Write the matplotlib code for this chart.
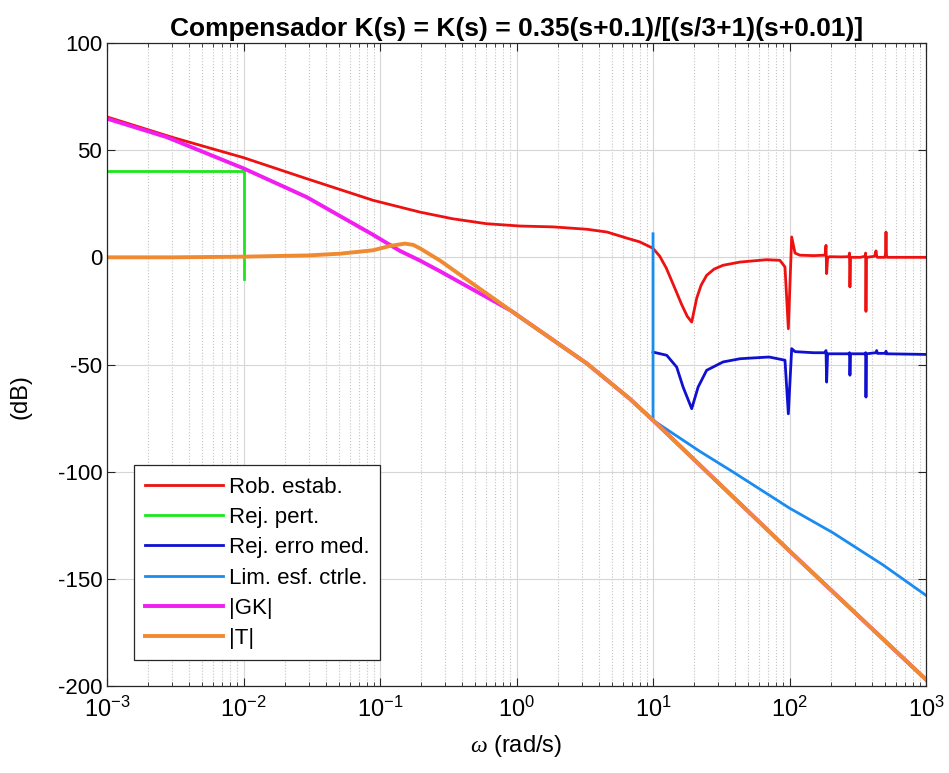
import numpy as np
import matplotlib
matplotlib.use('Agg')
import matplotlib.pyplot as plt

plt.rcParams['font.family'] = ['Liberation Sans', 'DejaVu Sans']
plt.rcParams['mathtext.fontset'] = 'custom'
plt.rcParams['mathtext.rm'] = 'Liberation Sans'
plt.rcParams['mathtext.it'] = 'Liberation Serif:italic'
plt.rcParams['axes.unicode_minus'] = False

# Rob. estab.
w_rob = [1e-3, 3e-3, 1e-2, 0.029, 0.089, 0.196, 0.34, 0.6, 1.06, 1.86, 3.27, 4.6, 6.4, 8.0,
         10, 11.2, 12.5, 13.5, 14.8, 16.2, 17.8, 19.2, 20.9, 22.5, 24.7, 28, 32.6, 43.4, 68,
         85, 92.6, 98, 103.7, 109.7, 119, 150, 182, 185, 187, 190, 195, 240, 272, 275, 277,
         280, 330, 358, 361, 363, 366, 420, 430, 435, 440, 500, 505, 509, 513, 520, 600, 1000]
rob = [65.5, 56.0, 46.5, 36.7, 26.6, 21.1, 18.0, 15.7, 14.6, 14.2, 13.1, 11.8, 9.0, 7.2,
       4.2, 0.5, -5.0, -10.0, -16.0, -22.0, -27.5, -30.2, -19.0, -13.0, -8.4, -5.5, -3.7, -2.2, -1.1,
       -1.4, -4.5, -33.3, 9.5, 2.0, 1.0, 0.8, 1.0, 5.6, -7.6, -0.5, 0.3, 0.2, 0.3, 2.0, -13.8,
       0.0, 0.0, 0.5, 2.0, -25.2, 0.0, 0.5, 3.0, 0.5, 0.0, 0.0, 2.0, 11.8, 1.0, 0.0, 0.0, 0.0]

# Rej. pert.
w_pert = [1e-3, 1e-2, 1e-2]
pert = [40.5, 40.5, -10.0]

# Rej. erro med.
w_med = [10, 12.6, 14.9, 16.6, 19.2, 21.4, 24.7, 32.6, 43.4, 70.8, 92.6, 98, 103.7, 109.7,
         150, 182, 185, 187, 190, 195, 272, 275, 277, 280, 358, 361, 363, 366, 430, 435,
         440, 505, 509, 513, 1000]
med = [-44.2, -45.7, -51.2, -60.5, -70.6, -60.5, -52.7, -48.8, -47.3, -46.5, -48.0, -73.0, -42.6, -44.0,
       -44.5, -44.5, -43.5, -58.2, -45.0, -45.0, -45.0, -44.5, -55.0, -45.0, -45.0, -44.5, -65.2, -45.0,
       -44.5, -43.5, -44.8, -44.8, -43.8, -45.0, -45.3]

# Lim. esf. ctrle.
w_esf = [10, 10, 22, 38.7, 100, 208, 484, 1000]
esf = [11.0, -76.0, -90.5, -100.2, -117.0, -128.5, -143.5, -157.7]

# |GK|
w_gk = [1e-3, 2.73e-3, 1e-2, 0.029, 0.089, 0.14, 0.196, 0.275, 0.42, 0.9, 3.27, 6.76, 10, 100, 1000]
gk = [64.7, 56.1, 41.5, 28.1, 10.5, 3.0, -1.5, -6.5, -13.0, -24.7, -49.5, -66.0, -76.0, -137.0, -197.0]

# |T|
w_t = [1e-3, 3e-3, 1e-2, 0.03, 0.051, 0.089, 0.118, 0.152, 0.175, 0.196, 0.275, 0.42, 0.9,
       3.27, 6.76, 10, 100, 1000]
t = [0.0, 0.0, 0.3, 0.9, 1.7, 3.3, 5.3, 6.4, 5.8, 4.2, -1.5, -9.8, -24.7, -49.5, -66.0, -76.0,
     -137.0, -197.0]

fig = plt.figure(figsize=(9.49, 7.73), dpi=100)
ax = fig.add_axes([0.1128, 0.1125, 0.8630, 0.8319])

ax.semilogx(w_rob, rob, color='#ee1111', lw=2, label='Rob. estab.')
ax.semilogx(w_pert, pert, color='#1ee61e', lw=2, label='Rej. pert.')
ax.semilogx(w_med, med, color='#1010d0', lw=2, label='Rej. erro med.')
ax.semilogx(w_esf, esf, color='#1a8cf0', lw=2, label='Lim. esf. ctrle.')
ax.semilogx(w_gk, gk, color='#f01ef0', lw=2.8, label='|GK|')
ax.semilogx(w_t, t, color='#f08a30', lw=2.8, label='|T|')

ax.set_xlim(1e-3, 1e3)
ax.set_ylim(-200, 100)
ax.set_yticks([-200, -150, -100, -50, 0, 50, 100])
ax.grid(True, which='major', color='#d6d6d6', lw=0.8, ls='-')
ax.grid(True, which='minor', axis='x', color='#c4c4c4', lw=0.8, ls=':')
ax.set_axisbelow(True)
ax.tick_params(which='both', direction='in', top=True, right=True, labelsize=16,
               color='#262626')
ax.tick_params(axis='x', which='major', pad=8, labelsize=17)
ax.tick_params(which='major', length=6)
ax.tick_params(which='minor', length=3)
for s in ax.spines.values():
    s.set_color('#262626')
    s.set_linewidth(0.9)

ax.set_title('Compensador K(s) = K(s) = 0.35(s+0.1)/[(s/3+1)(s+0.01)]',
             fontsize=19, fontweight='bold', pad=5)
ax.set_xlabel(r'$\omega$ (rad/s)', fontsize=17, labelpad=8)
ax.set_ylabel('(dB)', fontsize=17)
ax.yaxis.set_label_coords(-0.092, 0.45)

leg = ax.legend(loc='lower left', bbox_to_anchor=(0.033, 0.04), borderaxespad=0,
                fontsize=16, handlelength=3.5, handletextpad=0.25, labelspacing=0.42,
                fancybox=False, framealpha=1, edgecolor='#262626', borderpad=0.5)
leg.get_frame().set_linewidth(0.9)

fig.savefig('out.png', dpi=100)
